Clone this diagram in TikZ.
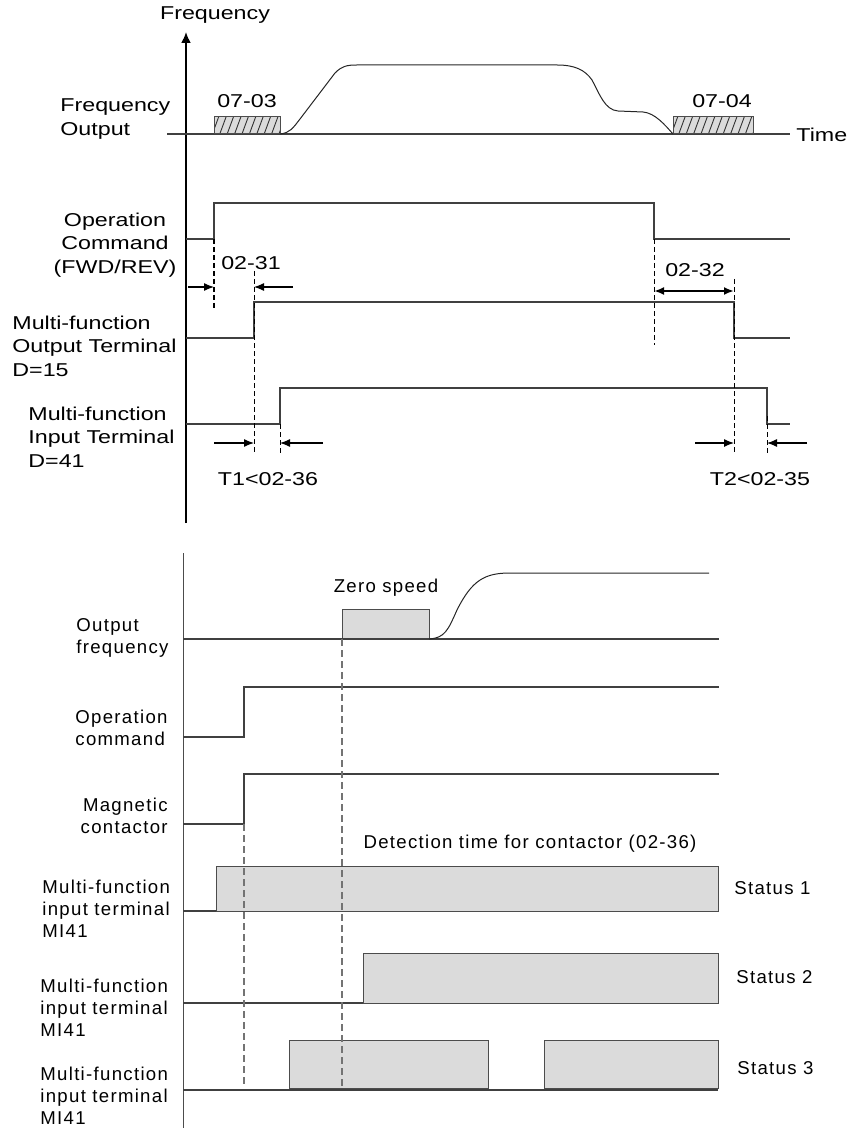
\documentclass[tikz,border=0pt]{standalone}
\usepackage{fontspec}
\setmainfont{Liberation Sans}
\newfontfamily\topfont[FakeStretch=1.25]{Liberation Sans}
\newfontfamily\botfont[LetterSpace=7]{Liberation Sans}
\usetikzlibrary{arrows.meta}

\begin{document}
\begin{tikzpicture}[
    x=0.5pt, y=-0.5pt,
    every node/.style={inner sep=0pt},
    toplbl/.style={font=\topfont\fontsize{9.3}{11.7}\selectfont},
    botlbl/.style={font=\botfont\fontsize{9.3}{11}\selectfont},
    wave/.style={draw=black!75, line width=0.6pt},
    guide/.style={draw=black, line width=0.5pt, dash pattern=on 2.5pt off 1.5pt},
    gguide/.style={draw=black!55, line width=0.6pt, dash pattern=on 3.5pt off 2pt},
    pulse/.style={fill=black!14, draw=black!70, line width=0.5pt},
    >={Latex[length=5pt,width=4pt]},
]
\useasboundingbox (0,0) rectangle (846,1128);

% === Upper chart: time axis and frequency ===
\draw[line width=1pt, -{Latex[length=5.5pt,width=5pt]}] (186,523) -- (186,32);
\node[toplbl] (freqax) at (215,15) {Frequency};

\draw[wave] (167,134) -- (790,134);
\node[toplbl, anchor=west] (timelbl) at (796,135) {Time};
\node[toplbl, anchor=west, align=left] (foutlbl) at (60,119) {Frequency\\Output};

% hatched DC brake boxes
\foreach \bx/\bw in {214/66, 673/80} {
    \fill[black!14] (\bx,117) rectangle ++(\bw,17);
    \begin{scope}
        \clip (\bx,117) rectangle ++(\bw,17);
        \foreach \hx in {0,7.4,...,90}
            \draw[black!80, line width=0.45pt] ({\bx+\hx-2},135) -- ({\bx+\hx+5},116);
    \end{scope}
    \draw[black!70, line width=0.5pt] (\bx,117) rectangle ++(\bw,17);
}
\node[toplbl] (dcstart) at (247,101) {07-03};
\node[toplbl] (dcstop) at (722,101) {07-04};

% accel / decel curve
\draw[black!85, line width=0.5pt] (280,134) .. controls (290,133) and (293,128) .. (300,119)
    -- (335,73) .. controls (342,66) and (347,65) .. (357,65) -- (557,65)
    .. controls (575,65) and (585,70) .. (592,80)
    .. controls (600,95) and (605,110) .. (618,111) -- (643,112)
    .. controls (655,113) and (665,125) .. (673,134);

% === Operation command ===
\draw[wave] (186,239) -- (214,239) -- (214,203) -- (654,203) -- (654,239) -- (790,239);
\node[toplbl, align=center] (oplbl) at (115,245) {Operation\\Command\\(FWD/REV)};

% === Output terminal D=15 ===
\draw[wave] (186,338) -- (254,338) -- (254,302) -- (734,302) -- (734,338) -- (790,338);
\node[toplbl, anchor=west, align=left] (outlbl) at (12,346) {Multi-function\\Output Terminal\\D=15};

% === Input terminal D=41 ===
\draw[wave] (186,424) -- (280,424) -- (280,388) -- (767,388) -- (767,424) -- (790,424);
\node[toplbl, anchor=west, align=left] (inlbl) at (28,437) {Multi-function\\Input Terminal\\D=41};

% guide lines
\draw[guide, line width=1pt] (214,239) -- (214,308);
\draw[guide] (254,271) -- (254,455);
\draw[guide] (654,239) -- (654,345);
\draw[guide] (734,279) -- (734,455);
\draw[guide] (280,424) -- (280,453);
\draw[guide] (767,416) -- (767,455);

% delay arrows
\coordinate (on1) at (214,287);
\coordinate (on2) at (254,287);
\draw[->, line width=0.6pt] (188,287) -- (on1);
\draw[->, line width=0.6pt] (293,287) -- (on2);
\node[toplbl] (tonlbl) at (251,263) {02-31};

\coordinate (off1) at (654,291);
\coordinate (off2) at (734,291);
\draw[<->, line width=1.2pt] (off1) -- (off2);
\node[toplbl] (tofflbl) at (695,270) {02-32};

\coordinate (ta1) at (254,443);
\coordinate (ta2) at (280,443);
\draw[->, line width=0.6pt] (214,443) -- (ta1);
\draw[->, line width=0.6pt] (323,443) -- (ta2);
\node[toplbl] (t1lbl) at (268,479) {T1<02-36};

\coordinate (tb1) at (734,443);
\coordinate (tb2) at (767,443);
\draw[->, line width=0.6pt] (695,443) -- (tb1);
\draw[->, line width=0.6pt] (807,443) -- (tb2);
\node[toplbl] (t2lbl) at (760,479) {T2<02-35};

% === Lower chart: contactor detection ===
\draw[black!70, line width=0.5pt] (183,553) -- (183,1128);

% output frequency
\draw[pulse] (342,639) rectangle (429,609);
\draw[wave] (183,639) -- (719,639);
\draw[black!85, line width=0.5pt] (429,639) .. controls (445,638) and (448,630) .. (457,610)
    .. controls (472,580) and (485,573) .. (510,573) -- (709,573);
\node[botlbl] (zerolbl) at (386,588) {Zero speed};
\node[botlbl, anchor=west, align=left] (ofreqlbl) at (76,638) {Output\\frequency};

% operation command
\draw[wave] (183,737) -- (244,737) -- (244,687) -- (719,687);
\node[botlbl, anchor=west, align=left] (opcmdlbl) at (75,728) {Operation\\command};

% magnetic contactor
\draw[wave] (183,824) -- (244,824) -- (244,774) -- (719,774);
\node[botlbl, anchor=east, align=right] (mclbl) at (168,816) {Magnetic\\contactor};

\node[botlbl] (detlbl) at (530,844) {Detection time for contactor (02-36)};

% status 1
\draw[pulse] (216,911) rectangle (718,866);
\draw[wave] (183,911) -- (216,911);
\node[botlbl, anchor=west] (st1) at (734,888) {Status 1};
\node[botlbl, anchor=west, align=left] (mi1) at (42,909) {Multi-function\\input terminal\\MI41};

% status 2
\draw[pulse] (363,1003) rectangle (718,953);
\draw[wave] (183,1003) -- (363,1003);
\node[botlbl, anchor=west] (st2) at (736,977) {Status 2};
\node[botlbl, anchor=west, align=left] (mi2) at (40,1008) {Multi-function\\input terminal\\MI41};

% status 3
\draw[pulse] (289,1088) rectangle (488,1040);
\draw[pulse] (544,1088) rectangle (718,1040);
\draw[wave] (183,1090) -- (718,1090);
\node[botlbl, anchor=west] (st3) at (737,1068) {Status 3};
\node[botlbl, anchor=west, align=left] (mi3) at (40,1096) {Multi-function\\input terminal\\MI41};

% guide lines
\draw[gguide] (244,824) -- (244,1087);
\draw[gguide] (342,639) -- (342,1087);

\end{tikzpicture}
\end{document}
